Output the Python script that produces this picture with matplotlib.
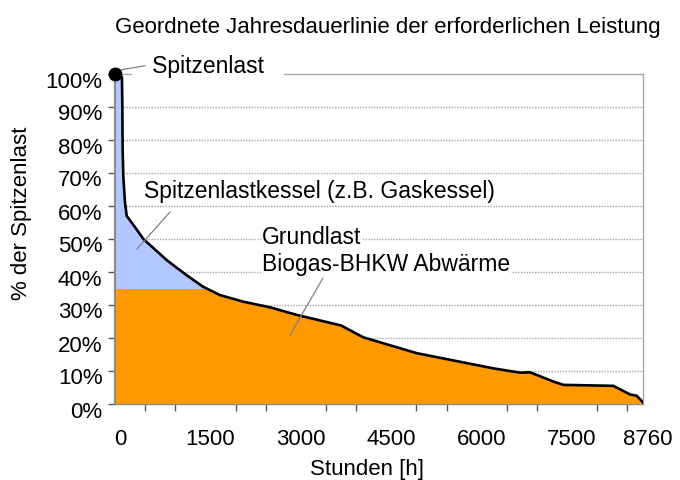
import matplotlib
matplotlib.use('Agg')
import matplotlib.pyplot as plt
import matplotlib.transforms as mtransforms
import numpy as np

plt.rcParams['font.family'] = ['Liberation Sans', 'DejaVu Sans']

# ---- data ----
hours = [0, 115, 122, 127, 138, 166, 194, 332, 470, 858, 1190, 1465, 1576, 1742,
         2129, 2572, 3015, 3750, 4120, 5006, 5392, 6277, 6720, 6886, 7273, 7438,
         8268, 8545, 8656, 8760]
load = [100, 99, 90, 77, 69, 61, 57, 53.6, 50, 43.6, 39, 35.5, 34.5, 33,
        31, 29.3, 27, 23.8, 20.2, 15.4, 14, 10.8, 9.5, 9.6, 6.8, 5.8,
        5.5, 2.9, 2.5, 0.5]
grundlast_level = 35
x_tick_labels = [0, 1500, 3000, 4500, 6000, 7500, 8760]
y_ticks = [0, 10, 20, 30, 40, 50, 60, 70, 80, 90, 100]

title = "Geordnete Jahresdauerlinie der erforderlichen Leistung"
xlabel = "Stunden [h]"
ylabel = "% der Spitzenlast"

hours_a = np.array(hours, dtype=float)
load_a = np.array(load, dtype=float)

W, H = 680, 480
fig = plt.figure(figsize=(6.8, 4.8), dpi=100)
ax = fig.add_axes([115 / W, 76 / H, 528 / W, 330 / H])

orange = '#FF9900'
blue = '#B3C7FF'

base = np.minimum(load_a, grundlast_level)
ax.fill_between(hours_a, 0, base, color=orange, lw=0, zorder=2)
ax.fill_between(hours_a, grundlast_level, load_a, where=load_a >= grundlast_level,
                interpolate=True, color=blue, lw=0, zorder=2)
ax.plot(hours_a, load_a, color='black', lw=1.9, solid_joinstyle='round', zorder=4)
ax.plot([hours[0]], [load[0]], 'o', color='black', ms=9, clip_on=False, zorder=6)

ax.set_xlim(0, 8760)
ax.set_ylim(0, 100)

# grid
for v in y_ticks[1:-1]:
    ax.axhline(v, color='#a8a8a8', lw=1.0, ls=(0, (1, 1)), zorder=1)

# spines
for s in ['top', 'right']:
    ax.spines[s].set_color('#a6a6a6')
    ax.spines[s].set_linewidth(1.0)
ax.spines['left'].set_color('#8c8c8c')
ax.spines['left'].set_linewidth(1.6)
ax.spines['bottom'].set_color('#8c8c8c')
ax.spines['bottom'].set_linewidth(1.0)
for s in ax.spines.values():
    s.set_zorder(3)

# ticks
ax.set_xticks(x_tick_labels)
ax.set_xticklabels([str(v) for v in x_tick_labels])
ax.set_xticks(np.arange(0, 8760, 500), minor=True)
ax.tick_params(axis='x', which='major', length=0, pad=18, labelsize=16)
ax.tick_params(axis='x', which='minor', length=5, width=1, color='#555555', direction='out')
ax.set_yticks(y_ticks)
ax.set_yticklabels([f"{v}%" for v in y_ticks])
ax.tick_params(axis='y', length=5, width=1, color='#555555', pad=4, labelsize=16)

dx = mtransforms.ScaledTranslation(5 / 100, 0, fig.dpi_scale_trans)
for lab in ax.get_xticklabels():
    lab.set_transform(lab.get_transform() + dx)
dy = mtransforms.ScaledTranslation(0, -5.5 / 100, fig.dpi_scale_trans)
for lab in ax.get_yticklabels():
    lab.set_transform(lab.get_transform() + dy)

# titles / axis labels
fig.text(388 / W, 1 - 27 / H, title, ha='center', va='center', fontsize=16)
fig.text(367 / W, 1 - 469 / H, xlabel, ha='center', va='center', fontsize=16)
fig.text(22 / W, 1 - 213 / H, ylabel, ha='center', va='center', fontsize=16, rotation=90)

# annotations
def ax_frac(px, py):
    return ((px - 115) / 528, (404 - py) / 330)

def leader(p0, p1):
    ax.annotate('', xy=ax_frac(*p1), xytext=ax_frac(*p0), xycoords='axes fraction',
                textcoords='axes fraction',
                arrowprops=dict(arrowstyle='-', color='#808080', lw=0.9,
                                shrinkA=0, shrinkB=0), zorder=5, annotation_clip=False)

fs_ann = 16.5
box = dict(boxstyle='square,pad=0.05', fc='white', ec='none')
ax.text(*ax_frac(133, 66), '   Spitzenlast   ', transform=ax.transAxes, ha='left',
        va='center', fontsize=fs_ann, bbox=box, zorder=5, clip_on=False)
leader((145, 65.7), (116, 70.7))

ax.text(*ax_frac(144, 191.7), 'Spitzenlastkessel (z.B. Gaskessel)', transform=ax.transAxes,
        ha='left', va='center', fontsize=fs_ann, zorder=5)
leader((170, 212), (137, 249))

ax.text(*ax_frac(262, 237), 'Grundlast', transform=ax.transAxes, ha='left', va='center',
        fontsize=fs_ann, bbox=box, zorder=5)
ax.text(*ax_frac(262, 264), 'Biogas-BHKW Abwärme', transform=ax.transAxes, ha='left',
        va='center', fontsize=fs_ann, bbox=box, zorder=5)
leader((323, 278), (290, 335))

fig.savefig('out.png', dpi=100)
